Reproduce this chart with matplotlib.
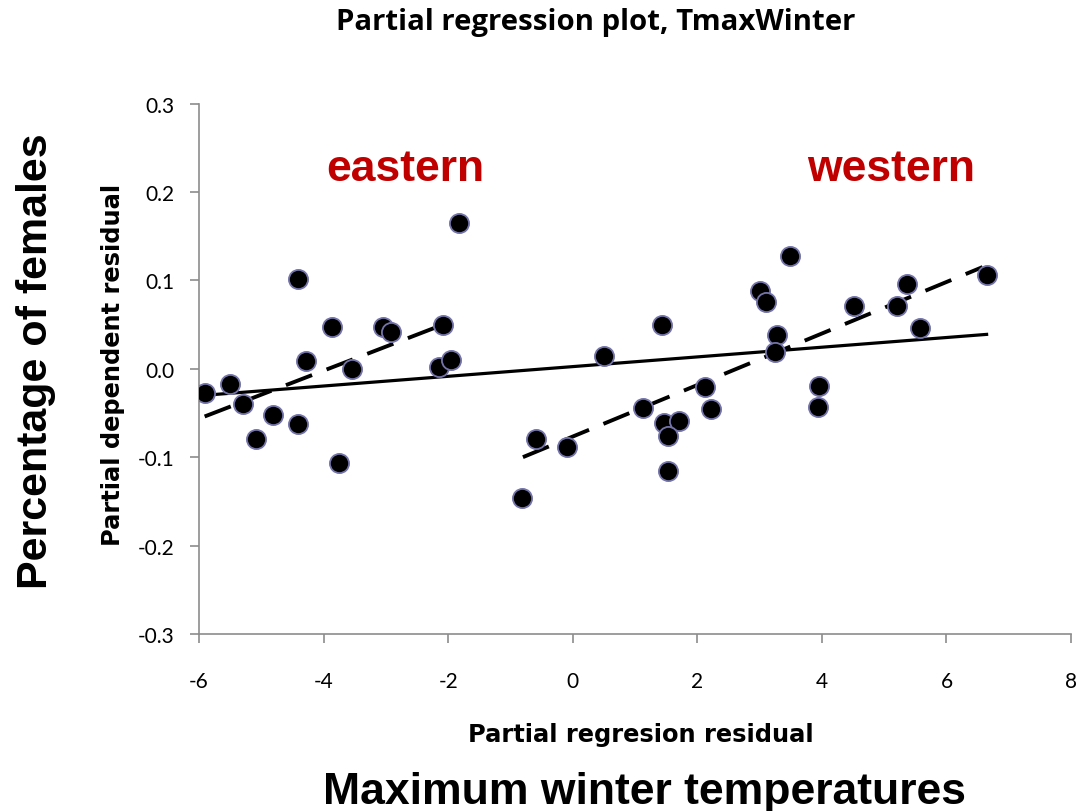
import matplotlib
matplotlib.use('Agg')
import matplotlib.pyplot as plt
import numpy as np

# eastern sites
east_x = [-5.91, -5.51, -5.30, -5.09, -4.82, -4.41, -4.41, -4.28, -3.86, -3.75,
          -3.55, -3.04, -2.92, -2.08, -2.14, -1.96, -1.83]
east_y = [-0.028, -0.017, -0.040, -0.080, -0.052, 0.101, -0.062, 0.009, 0.047, -0.107,
          0.000, 0.047, 0.041, 0.050, 0.002, 0.010, 0.165]

# western sites
west_x = [0.50, 1.43, -0.59, -0.09, -0.81, 1.12, 1.46, 1.70, 1.53, 1.53, 2.12, 2.22,
          3.49, 3.01, 3.11, 3.28, 3.25, 3.96, 3.94, 4.51, 5.20, 5.37, 5.58, 6.65]
west_y = [0.014, 0.050, -0.080, -0.088, -0.146, -0.044, -0.061, -0.059, -0.076, -0.116,
          -0.021, -0.045, 0.127, 0.088, 0.076, 0.038, 0.019, -0.019, -0.043, 0.071,
          0.071, 0.096, 0.046, 0.106]

# fitted lines (x range, y at ends)
all_fit_x = [-5.91, 6.67]
all_fit_y = [-0.030, 0.039]
east_fit_x = [-5.91, -2.08]
east_fit_y = [-0.054, 0.050]
west_fit_x = [-0.80, 6.58]
west_fit_y = [-0.100, 0.115]

x_ticks = [-6, -4, -2, 0, 2, 4, 6, 8]
y_ticks = [-0.3, -0.2, -0.1, 0.0, 0.1, 0.2, 0.3]

fig = plt.figure(figsize=(10.8, 8.12), dpi=100)
ax = fig.add_axes([0.1843, 0.2180, 0.8074, 0.6533])

ax.plot(all_fit_x, all_fit_y, color='black', lw=2.3, solid_capstyle='butt', zorder=2)
ax.plot(east_fit_x, east_fit_y, color='black', lw=2.8, dashes=(7.2, 4.0), zorder=2)
ax.plot(west_fit_x, west_fit_y, color='black', lw=2.8, dashes=(7.2, 4.0), zorder=2)

ax.plot(east_x + west_x, east_y + west_y, 'o', color='black', markersize=13.8,
        markeredgecolor='#7474aa', markeredgewidth=1.3, zorder=3)

ax.set_xlim(-6, 8)
ax.set_ylim(-0.3, 0.3)
ax.set_xticks(x_ticks)
ax.set_yticks(y_ticks)
ax.set_xticklabels([str(t) for t in x_ticks])
ax.set_yticklabels(['%.1f' % t for t in y_ticks])
for s in ['top', 'right']:
    ax.spines[s].set_visible(False)
for s in ['left', 'bottom']:
    ax.spines[s].set_color('#8c8c8c')
    ax.spines[s].set_linewidth(1.2)
ax.tick_params(axis='both', colors='#8c8c8c', length=6.5, width=1.2, labelcolor='black',
               labelsize=15)
ax.tick_params(axis='x', pad=20)
ax.tick_params(axis='y', pad=11)
for lab in ax.get_xticklabels() + ax.get_yticklabels():
    lab.set_family('Lato')

ax.text(-2.69, 0.226, 'eastern', color='#c00000', fontsize=32, fontweight='bold',
        family='Liberation Sans', ha='center', va='center')
ax.text(5.11, 0.226, 'western', color='#c00000', fontsize=32, fontweight='bold',
        family='Liberation Sans', ha='center', va='center')

fig.text(0.552, 0.972, 'Partial regression plot, TmaxWinter', fontsize=21.2,
         fontweight='bold', family='Open Sans', ha='center', va='center')
fig.text(0.5935, 0.095, 'Partial regresion residual', fontsize=17.4,
         fontweight='bold', family='DejaVu Sans', ha='center', va='center')
fig.text(0.105, 0.5505, 'Partial dependent residual', fontsize=17.4,
         fontweight='bold', family='DejaVu Sans', ha='center', va='center',
         rotation=90)
fig.text(0.033, 0.555, 'Percentage of females', fontsize=31, fontweight='bold',
         family='Liberation Sans', ha='center', va='center', rotation=90)
fig.text(0.597, 0.024, 'Maximum winter temperatures', fontsize=32, fontweight='bold',
         family='Liberation Sans', ha='center', va='center')

fig.savefig('out.png', dpi=100)
